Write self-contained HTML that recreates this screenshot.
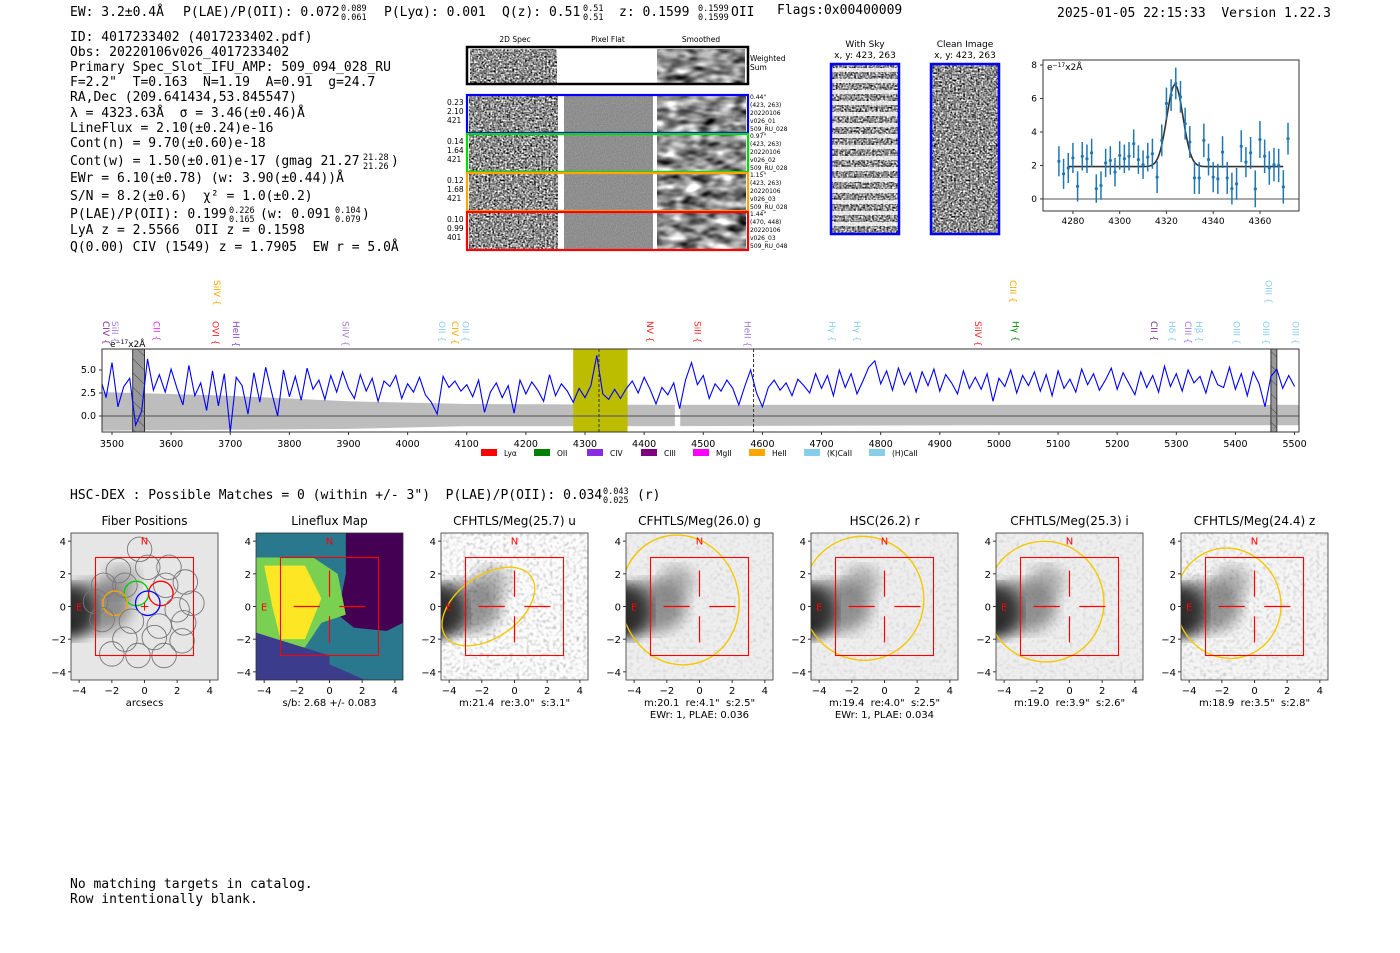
<!DOCTYPE html>
<html><head><meta charset="utf-8"><style>
html,body{margin:0;padding:0;background:#fff;}
svg{display:block;}
text{white-space:pre;}
.mono{font-family:"DejaVu Sans Mono","Liberation Mono",monospace;font-size:13px;fill:#000;}
.sm{font-size:8.5px;}
</style></head><body>
<svg id="fig" width="1400" height="953" viewBox="0 0 1400 953" xmlns="http://www.w3.org/2000/svg" xml:space="preserve">
<defs>
<filter id="nFine" x="0" y="0" width="1" height="1" color-interpolation-filters="sRGB">
<feTurbulence type="fractalNoise" baseFrequency="0.55" numOctaves="1" seed="3"/>
<feColorMatrix values="1.1 1.1 1.1 0 -1.1  1.1 1.1 1.1 0 -1.1  1.1 1.1 1.1 0 -1.1  0 0 0 0 1"/></filter>
<filter id="nSmooth" x="0" y="0" width="1" height="1" color-interpolation-filters="sRGB">
<feTurbulence type="fractalNoise" baseFrequency="0.06 0.12" numOctaves="2" seed="7"/>
<feColorMatrix values="0.9 0.9 0.9 0 -0.8  0.9 0.9 0.9 0 -0.8  0.9 0.9 0.9 0 -0.8  0 0 0 0 1"/></filter>
<filter id="nFlat" x="0" y="0" width="1" height="1" color-interpolation-filters="sRGB">
<feTurbulence type="fractalNoise" baseFrequency="0.9" numOctaves="1" seed="5"/>
<feColorMatrix values="0.12 0.12 0.12 0 0.38  0.12 0.12 0.12 0 0.38  0.12 0.12 0.12 0 0.38  0 0 0 0 1"/></filter>
<filter id="nCut" x="0" y="0" width="1" height="1" color-interpolation-filters="sRGB">
<feTurbulence type="fractalNoise" baseFrequency="0.3" numOctaves="1" seed="11"/>
<feColorMatrix values="0.35 0.35 0.35 0 0.45  0.35 0.35 0.35 0 0.45  0.35 0.35 0.35 0 0.45  0 0 0 0 1"/></filter>
<filter id="blur3"><feGaussianBlur stdDeviation="7"/></filter>
<pattern id="hatch" width="10" height="10" patternUnits="userSpaceOnUse" patternTransform="rotate(-45)"><rect width="10" height="10" fill="#999"/><line x1="0" y1="0" x2="0" y2="10" stroke="#444" stroke-width="1"/></pattern>
</defs>

<g>
<text class="mono" x="70" y="16">EW: 3.2±0.4Å</text>
<text class="mono" x="183" y="16">P(LAE)/P(OII): 0.072</text>
<text class="mono" x="341" y="11" style="font-size:8.5px">0.089</text><text class="mono" x="341" y="20" style="font-size:8.5px">0.061</text>
<text class="mono" x="384" y="16">P(Lyα): 0.001</text>
<text class="mono" x="502" y="16">Q(z): 0.51</text>
<text class="mono" x="583" y="11" style="font-size:8.5px">0.51</text><text class="mono" x="583" y="20" style="font-size:8.5px">0.51</text>
<text class="mono" x="619" y="16">z: 0.1599</text>
<text class="mono" x="698" y="11" style="font-size:8.5px">0.1599</text><text class="mono" x="698" y="20" style="font-size:8.5px">0.1599</text>
<text class="mono" x="731" y="16">OII</text>
<text class="mono" x="777" y="14">Flags:0x00400009</text>
<text class="mono" x="1057" y="17">2025-01-05 22:15:33  Version 1.22.3</text>
</g>
<g>
<text class="mono" x="70" y="41">ID: 4017233402 (4017233402.pdf)</text>
<text class="mono" x="70" y="56">Obs: 20220106v026_4017233402</text>
<text class="mono" x="70" y="71">Primary Spec_Slot_IFU_AMP: 509_094_028_RU</text>
<text class="mono" x="70" y="86">F=2.2"  T=0.163  N=1.19  A=0.91  g=24.7</text>
<text class="mono" x="70" y="101">RA,Dec (209.641434,53.845547)</text>
<text class="mono" x="70" y="117">λ = 4323.63Å  σ = 3.46(±0.46)Å</text>
<text class="mono" x="70" y="132">LineFlux = 2.10(±0.24)e-16</text>
<text class="mono" x="70" y="147">Cont(n) = 9.70(±0.60)e-18</text>
<text class="mono" x="70" y="165">Cont(w) = 1.50(±0.01)e-17 (gmag 21.27</text>
<text class="mono" x="363" y="160" style="font-size:8.5px">21.28</text><text class="mono" x="363" y="169" style="font-size:8.5px">21.26</text>
<text class="mono" x="391" y="165">)</text>
<text class="mono" x="70" y="182">EWr = 6.10(±0.78) (w: 3.90(±0.44))Å</text>
<text class="mono" x="70" y="200">S/N = 8.2(±0.6)  χ² = 1.0(±0.2)</text>
<text class="mono" x="70" y="218">P(LAE)/P(OII): 0.199</text>
<text class="mono" x="229" y="213" style="font-size:8.5px">0.226</text><text class="mono" x="229" y="222" style="font-size:8.5px">0.165</text>
<text class="mono" x="260" y="218">(w: 0.091</text>
<text class="mono" x="335" y="213" style="font-size:8.5px">0.104</text><text class="mono" x="335" y="222" style="font-size:8.5px">0.079</text>
<text class="mono" x="362" y="218">)</text>
<text class="mono" x="70" y="234">LyA z = 2.5566  OII z = 0.1598</text>
<text class="mono" x="70" y="251">Q(0.00) CIV (1549) z = 1.7905  EW r = 5.0Å</text>
</g>

<g id="spec2d"></g>
<g id="fitplot"></g>
<g id="fullspec"></g>

<g>
<text class="mono" x="70" y="499">HSC-DEX : Possible Matches = 0 (within +/- 3")  P(LAE)/P(OII): 0.034</text>
<text class="mono" x="603" y="494" style="font-size:8.5px">0.043</text><text class="mono" x="603" y="503" style="font-size:8.5px">0.025</text>
<text class="mono" x="637" y="499">(r)</text>
</g>
<g id="cutouts"></g>
<g>
<text class="mono" x="70" y="888">No matching targets in catalog.</text>
<text class="mono" x="70" y="903">Row intentionally blank.</text>
</g>
</svg>
<script>
// ===== data =====
const fitWave = [4274,4276,4278,4280,4282,4284,4286,4288,4290,4292,4294,4296,4298,4300,4302,4304,4306,4308,4310,4312,4314,4316,4318,4320,4322,4324,4326,4328,4330,4332,4334,4336,4338,4340,4342,4344,4346,4348,4350,4352,4354,4356,4358,4360,4362,4364,4366,4368,4370,4372];
const fitFlux = [2.25,1.5,1.85,2.45,0.75,2.55,2.4,2.75,0.62,0.8,2.15,2.3,1.6,2.6,2.4,2.55,3.3,2.35,2.05,2.5,2.7,1.3,3.5,5.7,6.2,6.9,6.1,4.5,3.4,1.25,1.25,3.5,2.35,1.3,1.2,2.8,1.25,0.62,0.9,3.15,2.2,2.75,0.6,3.55,2.55,1.85,2.05,2.0,0.72,3.6];
const fitErr = [0.9,0.9,0.9,0.9,0.9,0.85,0.85,0.85,0.85,0.85,0.85,0.85,0.85,0.85,0.85,0.85,0.85,0.85,0.85,0.85,0.9,0.95,0.95,0.95,0.95,0.95,0.95,0.95,0.95,0.95,0.95,1.0,0.95,0.9,0.9,0.95,0.95,0.95,0.95,0.95,0.9,0.95,1.1,1.1,1.0,1.0,1.0,1.0,1.0,0.95];
const fitParams = [4323.63, 3.46, 4.9, 1.93]; // center, sigma, amplitude, continuum
const fitXTicks = [4280,4300,4320,4340,4360];
const fitYTicks = [0,2,4,6,8];

const specStart = 3480, specStep = 10;
const specFlux = [3.5,2.0,5.8,1.0,3.2,4.1,-1.0,0.5,6.2,2.8,
4.5,2.6,5.1,3.0,1.2,5.5,2.2,3.6,0.6,4.9,
1.1,4.6,-1.8,4.2,3.3,0.2,4.7,1.5,5.3,2.6,
0.0,5.0,2.1,4.3,1.7,5.2,2.9,3.9,1.8,4.4,
2.6,4.8,3.0,1.9,4.5,2.7,4.1,1.6,3.8,3.2,
4.4,1.9,3.5,2.6,4.2,2.3,1.5,0.2,4.3,3.1,
3.8,2.7,3.4,2.1,3.9,0.4,2.6,3.6,2.0,3.3,
0.3,3.9,2.4,3.7,2.8,1.6,4.5,2.2,3.5,2.7,
1.5,3.0,2.0,3.3,6.6,2.4,1.8,2.9,1.9,3.0,
3.8,2.5,4.2,2.9,1.3,3.1,2.3,3.6,0.8,3.9,
5.8,3.4,4.4,1.9,3.5,2.7,3.9,3.0,1.2,3.2,
5.0,2.5,1.0,3.1,3.9,2.8,3.6,2.2,4.0,3.3,
2.5,4.6,3.0,4.4,2.2,5.0,3.1,4.6,2.4,3.8,
5.3,6.0,3.5,4.9,2.8,5.2,3.4,4.7,2.6,4.8,
3.3,5.1,2.7,4.5,3.6,2.4,4.9,3.0,4.2,2.9,
4.6,1.6,4.1,3.2,5.0,2.5,4.4,3.3,4.8,2.7,
4.5,2.2,4.9,3.0,4.0,2.6,5.1,3.4,4.6,2.8,
3.9,5.2,2.9,4.7,3.5,2.3,4.8,3.1,4.4,2.6,
5.4,3.2,4.6,2.7,5.0,3.6,4.3,2.5,4.9,3.4,
3.1,5.3,2.9,4.6,2.2,4.8,3.5,1.0,4.3,5.1,
3.0,4.4,3.2];
const errKnotWave = [3483,3700,3900,4100,4450,5000,5507];
const errKnotHi = [2.6,2.2,1.6,1.3,1.2,1.2,1.2];
const errKnotLo = [-1.6,-1.5,-1.4,-1.1,-1.1,-1.0,-1.0];
const specXTicks = [3500,3600,3700,3800,3900,4000,4100,4200,4300,4400,4500,4600,4700,4800,4900,5000,5100,5200,5300,5400,5500];
const specYTicks = [0,2.5,5.0];
const lineNames = ["CIV","SiII","CII","OVI","SiIV","HeII","SiIV","OII","CIV","OII","NV","SiII","HeII","Hγ","Hγ","SiIV","CIII","Hγ","CII","Hδ","CIII","Hβ","OIII","OIII","OIII","OIII"];
const lineWaves = [3490,3505,3575,3675,3678,3710,3895,4058,4080,4098,4410,4490,4575,4718,4760,4965,5024,5028,5262,5293,5320,5338,5402,5452,5456,5502];
const lineColors = ["#7b2d8e","#a57be0","#ee33ee","#ff2222","#ffa500","#8844cc","#a57be0","#87ceeb","#ffa500","#87ceeb","#ff2222","#ff2222","#a57be0","#87ceeb","#87ceeb","#ff2222","#ffa500","#008800","#7b2d8e","#87ceeb","#a57be0","#87ceeb","#87ceeb","#87ceeb","#87ceeb","#87ceeb"];
const lineTier = [0,0,0,0,1,0,0,0,0,0,0,0,0,0,0,0,1,0,0,0,0,0,0,0,1,0];
const legendNames = ["Lyα","OII","CIV","CIII","MgII","HeII","(K)CaII","(H)CaII"];
const legendColors = ["#ff0000","#008000","#8a2be2","#800080","#ff00ff","#ffa500","#87ceeb","#87ceeb"];

const panelTitles = ["Fiber Positions","Lineflux Map","CFHTLS/Meg(25.7) u","CFHTLS/Meg(26.0) g","HSC(26.2) r","CFHTLS/Meg(25.3) i","CFHTLS/Meg(24.4) z"];
const panelLabel1 = ["arcsecs","s/b: 2.68 +/- 0.083","m:21.4  re:3.0\"  s:3.1\"","m:20.1  re:4.1\"  s:2.5\"","m:19.4  re:4.0\"  s:2.5\"","m:19.0  re:3.9\"  s:2.6\"","m:18.9  re:3.5\"  s:2.8\""];
const panelLabel2 = ["","","","EWr: 1, PLAE: 0.036","EWr: 1, PLAE: 0.034","",""];
const ellCx = [0,0,-1.6,-1.2,-1.3,-1.5,-1.6];
const ellCy = [0,0,0.0,0.4,0.5,0.3,0.2];
const ellRx = [0,0,3.2,3.6,3.7,3.6,3.2];
const ellRy = [0,0,1.9,4.0,3.8,3.7,3.4];
const ellRot = [0,0,-35,-15,-15,-15,-20];
const cutTicks = [-4,-2,0,2,4];
const fiberX = [-0.3,-1.6,1.5,0.2,-1.2,1.3,2.5,-2.5,-0.5,1.0,2.9,-3.0,-1.8,0.2,2.0,-2.6,-0.8,0.9,2.4,-1.2,0.6,2.3,-0.4,1.2,-2.0];
const fiberY = [3.5,2.2,2.4,2.4,1.3,1.3,1.5,1.3,0.8,0.8,0.2,0.3,0.2,0.2,-0.2,-0.8,-0.9,-1.2,-1.0,-2.0,-1.9,-2.1,-3.0,-3.0,-2.9];
const fiberHighlight = ["","","","","","","","","#00cc00","red","","","orange","blue","","","","","","","","","","",""];

// ===== helpers =====
const NS="http://www.w3.org/2000/svg";
function mk(tag, attrs, parent){const e=document.createElementNS(NS,tag);for(const k in attrs)e.setAttribute(k,attrs[k]);parent.appendChild(e);return e;}
function txt(parent,x,y,s,size,anchor,fill){const t=mk('text',{x:x,y:y,'font-size':size,'text-anchor':anchor||'start',fill:fill||'#000','font-family':'DejaVu Sans, Liberation Sans, sans-serif'},parent);t.textContent=s;return t;}

// ===== 2D spectra =====
(function(){
const g=document.getElementById('spec2d');
txt(g,515,42,"2D Spec",7.5,'middle');txt(g,608,42,"Pixel Flat",7.5,'middle');txt(g,701,42,"Smoothed",7.5,'middle');
const ws=mk('rect',{x:470,y:49,width:87,height:34,filter:'url(#nFine)'},g);


const wsm=mk('rect',{x:657,y:49,width:88,height:34,filter:'url(#nSmooth)'},g);


mk('rect',{x:467,y:47,width:281,height:37,fill:'none',stroke:'#000','stroke-width':2.5},g);
txt(g,750,61,"Weighted",7.5);txt(g,750,70,"Sum",7.5);
const rows=[{c:'#0000ff',y:95,n:["0.23","2.10","421"],r:["0.44\"","(423, 263)","20220106","v026_01","509_RU_028"]},
{c:'#00dd00',y:134,n:["0.14","1.64","421"],r:["0.97\"","(423, 263)","20220106","v026_02","509_RU_028"]},
{c:'#ffa500',y:173,n:["0.12","1.68","421"],r:["1.15\"","(423, 263)","20220106","v026_03","509_RU_028"]},
{c:'#ff0000',y:212,n:["0.10","0.99","401"],r:["1.44\"","(470, 448)","20220106","v026_03","509_RU_048"]}];
rows.forEach((rw,i)=>{
 const a=mk('rect',{x:469,y:rw.y+1,width:89,height:36,filter:'url(#nFine)'},g);
 
 
 const b=mk('rect',{x:564,y:rw.y+1,width:89,height:36,filter:'url(#nFlat)'},g);
 
 
 const c=mk('rect',{x:657,y:rw.y+1,width:89,height:36,filter:'url(#nSmooth)'},g);
 
 
 const f=mk('rect',{x:467,y:rw.y,width:281,height:38,fill:'none',stroke:rw.c,'stroke-width':2.2},g);
 
 
 rw.n.forEach((s,k)=>txt(g,447,rw.y+10+k*9,s,7.5));
 rw.r.forEach((s,k)=>txt(g,750,rw.y+4+k*8,s,6));
});
txt(g,865,47,"With Sky",9,'middle');txt(g,865,58,"x, y: 423, 263",9,'middle');
txt(g,965,47,"Clean Image",9,'middle');txt(g,965,58,"x, y: 423, 263",9,'middle');
const sky=mk('rect',{x:832,y:65,width:66,height:168,fill:'#999',filter:'url(#nFine)'},g);


for(let k=0;k<15;k++){mk('rect',{x:832,y:68+k*11,width:66,height:4,fill:'#fff',opacity:0.8},g);}
mk('rect',{x:831,y:64,width:68,height:170,fill:'none',stroke:'#0000ff','stroke-width':2.5},g);
const cl=mk('rect',{x:932,y:65,width:66,height:168,filter:'url(#nFine)'},g);


mk('rect',{x:931,y:64,width:68,height:170,fill:'none',stroke:'#0000ff','stroke-width':2.5},g);
})();

// ===== fit plot =====
(function(){
const g=document.getElementById('fitplot');
const L=1043,R=1299,T=60,B=211,x0=4267.2,x1=4376.7,y0=-0.72,y1=8.3;
const X=v=>L+(v-x0)/(x1-x0)*(R-L), Y=v=>B-(v-y0)/(y1-y0)*(B-T);
mk('line',{x1:L,x2:R,y1:Y(0),y2:Y(0),stroke:'#555','stroke-width':1},g);
let d='';
for(let w=4278;w<=4370;w+=0.5){const f=fitParams[3]+fitParams[2]*Math.exp(-0.5*Math.pow((w-fitParams[0])/fitParams[1],2));d+=(d?'L':'M')+X(w).toFixed(1)+','+Y(f).toFixed(1);}
const fl=mk('path',{d:d,fill:'none',stroke:'#333','stroke-width':1.6},g);


fitWave.forEach((w,i)=>{
 const e=mk('line',{x1:X(w),x2:X(w),y1:Y(fitFlux[i]-fitErr[i]),y2:Y(fitFlux[i]+fitErr[i]),stroke:'#1f77b4','stroke-width':1.5},g);
 
 
 const p=mk('circle',{cx:X(w),cy:Y(fitFlux[i]),r:1.6,fill:'#1f77b4'},g);
 
 
});
mk('rect',{x:L,y:T,width:R-L,height:B-T,fill:'none',stroke:'#333','stroke-width':1},g);
fitXTicks.forEach(t=>{mk('line',{x1:X(t),x2:X(t),y1:B,y2:B+3,stroke:'#333'},g);txt(g,X(t),B+13,String(t),9,'middle');});
fitYTicks.forEach(t=>{mk('line',{x1:L,x2:L-3,y1:Y(t),y2:Y(t),stroke:'#333'},g);txt(g,L-6,Y(t)+3,String(t),9,'end');});
const u=txt(g,L+4,T+10,"e",9);const s=mk('tspan',{dy:-3,'font-size':6},u);s.textContent="−17";const s2=mk('tspan',{dy:3},u);s2.textContent="x2Å";
})();

// ===== full spectrum =====
(function(){
const g=document.getElementById('fullspec');
const L=102,R=1299,T=349,B=432,x0=3483.1,x1=5507.5,y0=-1.74,y1=7.28;
const X=v=>L+(v-x0)/(x1-x0)*(R-L), Y=v=>B-(v-y0)/(y1-y0)*(B-T);
let up='',lo='';
errKnotWave.forEach((w,i)=>{up+=(i?'L':'M')+X(w).toFixed(1)+','+Y(errKnotHi[i]).toFixed(1);});
for(let i=errKnotWave.length-1;i>=0;i--){lo+='L'+X(errKnotWave[i]).toFixed(1)+','+Y(errKnotLo[i]).toFixed(1);}
const band=mk('path',{d:up+lo+'Z',fill:'#bdbdbd'},g);


mk('rect',{x:X(4452),y:T,width:X(4461)-X(4452),height:B-T,fill:'#fff'},g);
const hl=mk('rect',{x:X(4280),y:T,width:X(4372)-X(4280),height:B-T,fill:'#bcbc00'},g);


[[3535,3555],[5460,5470]].forEach(r=>{const h=mk('rect',{x:X(r[0]),y:T,width:X(r[1])-X(r[0]),height:B-T,fill:'url(#hatch)',stroke:'#333'},g);
 
 });
mk('line',{x1:L,x2:R,y1:Y(0),y2:Y(0),stroke:'#666','stroke-width':1.2},g);
[4323.6,4585].forEach(w=>mk('line',{x1:X(w),x2:X(w),y1:T,y2:B,stroke:'#333','stroke-dasharray':'3,2','stroke-width':1},g));
let d='';
specFlux.forEach((f,i)=>{const w=specStart+i*specStep;const xx=Math.max(L,Math.min(X(w),R));d+=(i?'L':'M')+xx.toFixed(1)+','+Y(Math.max(f,y0)).toFixed(1);});
const sp=mk('path',{d:d,fill:'none',stroke:'#0000ff','stroke-width':1.1},g);


mk('rect',{x:L,y:T,width:R-L,height:B-T,fill:'none',stroke:'#333','stroke-width':1},g);
specXTicks.forEach(t=>{mk('line',{x1:X(t),x2:X(t),y1:B,y2:B+3,stroke:'#333'},g);txt(g,X(t),B+15,String(t),9.5,'middle');});
specYTicks.forEach(t=>{mk('line',{x1:L,x2:L-3,y1:Y(t),y2:Y(t),stroke:'#333'},g);txt(g,L-6,Y(t)+3,t.toFixed(1),9.5,'end');});
const u=txt(g,110,347,"e",9);const s=mk('tspan',{dy:-3,'font-size':6},u);s.textContent="−17";const s2=mk('tspan',{dy:3},u);s2.textContent="x2Å";
lineNames.forEach((n,i)=>{
 const x=X(lineWaves[i]);const y=lineTier[i]?280:321;
 const t=mk('text',{x:0,y:0,'font-size':9,fill:lineColors[i],'font-family':'DejaVu Sans, sans-serif',transform:'translate('+(x-3)+','+y+') rotate(90)'},g);
 t.textContent=n+" {";
 
 
});
const lx=[481,534,587,641,693,749,804,869];
legendNames.forEach((n,i)=>{
 const r=mk('rect',{x:lx[i],y:449,width:16,height:7,fill:legendColors[i]},g);
 
 
 txt(g,lx[i]+23,456,n,7.5);
});
})();

// ===== cutouts =====
(function(){
const G=document.getElementById('cutouts');
panelTitles.forEach((title,i)=>{
 const L=71+185*i,T=533,S=147,sc=S/9,cx=L+S/2,cy=T+S/2;
 const X=v=>cx+v*sc, Y=v=>cy-v*sc;
 const g=mk('g',{},G);
 
 
 const cid='clip'+i;const cp=mk('clipPath',{id:cid},g);mk('rect',{x:L,y:T,width:S,height:S},cp);
 const im=mk('g',{'clip-path':'url(#'+cid+')'},g);
 if(i===1){
  mk('rect',{x:L,y:T,width:S,height:S,fill:'#2a788e'},im);
  mk('polygon',{points:[X(1),T,X(4.5),T,X(4.5),Y(-1),X(3.5),Y(-1.5),X(1.5),Y(-1.3),X(0.5),Y(-0.5),X(1),Y(2)].join(' '),fill:'#440154'},im);
  mk('polygon',{points:[L,Y(3),X(-1),Y(3),X(0.5),Y(2),X(1),Y(-0.5),X(-0.5),Y(-1),X(-1.5),Y(-2.5),L,Y(-2.5)].join(' '),fill:'#7ad151'},im);
  mk('polygon',{points:[X(-4),Y(2.5),X(-1.5),Y(2.5),X(-0.5),Y(0.5),X(-1.5),Y(-2),X(-3),Y(-2),X(-3.5),Y(0)].join(' '),fill:'#fde725'},im);
  mk('polygon',{points:[L,Y(-1.6),X(2.2),Y(-4.5),L,T+S].join(' '),fill:'#3b3c8b'},im);
  mk('polygon',{points:[L,Y(-1.6),X(0),Y(-3),X(0),T+S,L,T+S].join(' '),fill:'#3b3c8b'},im);
 } else {
  mk('rect',{x:L,y:T,width:S,height:S,fill:'#e6e6e6'},im);
  if(i>=2){mk('rect',{x:L,y:T,width:S,height:S,filter:'url(#nCut)',opacity:i===2?0.9:(i===6?0.6:0.35)},im);}
  mk('ellipse',{cx:X(-4.6),cy:Y(-0.3),rx:sc*1.6,ry:sc*1.6,fill:'#000',opacity:0.9,filter:'url(#blur3)'},im);
  mk('ellipse',{cx:X(-3.0),cy:Y(0.0),rx:sc*2.2,ry:sc*1.6,fill:'#444',opacity:0.55,filter:'url(#blur3)'},im);
  mk('ellipse',{cx:X(-1.4),cy:Y(1.5),rx:sc*1.1,ry:sc*1.0,fill:'#555',opacity:0.4,filter:'url(#blur3)'},im);
 }
 if(i===0){
  fiberX.forEach((fx,k)=>{const h=fiberHighlight[k];
   const c=mk('circle',{cx:X(fx),cy:Y(fiberY[k]),r:sc*0.75,fill:'none',stroke:h||'#777','stroke-width':h?1.3:0.9},im);
   
   });
  txt(im,X(0),Y(0)+4,"+",12,'middle','#f00');
 }
 if(ellRx[i]>0){
  const e=mk('ellipse',{cx:X(ellCx[i]),cy:Y(ellCy[i]),rx:ellRx[i]*sc,ry:ellRy[i]*sc,fill:'none',stroke:'#f5c800','stroke-width':1.4,transform:'rotate('+ellRot[i]+' '+X(ellCx[i])+' '+Y(ellCy[i])+')'},im);
  
  
 }
 mk('rect',{x:X(-3),y:Y(3),width:6*sc,height:6*sc,fill:'none',stroke:'#f00','stroke-width':1.1},g);
 if(i>0){
  [[X(-2.2),Y(0),X(-0.6),Y(0)],[X(0.6),Y(0),X(2.2),Y(0)],[X(0),Y(2.2),X(0),Y(0.6)],[X(0),Y(-0.6),X(0),Y(-2.2)]].forEach(l=>mk('line',{x1:l[0],y1:l[1],x2:l[2],y2:l[3],stroke:'#f00','stroke-width':1.2},g));
 }
 txt(g,X(0),Y(3.8),"N",10,'middle','#f00');
 txt(g,X(-4),Y(0)+4,"E",10,'middle','#f00');
 mk('rect',{x:L,y:T,width:S,height:S,fill:'none',stroke:'#333','stroke-width':0.8},g);
 cutTicks.forEach(t=>{
  mk('line',{x1:X(t),x2:X(t),y1:T+S,y2:T+S+3,stroke:'#333'},g);
  txt(g,X(t),T+S+14,t<0?'−'+(-t):String(t),10,'middle');
  mk('line',{x1:L,x2:L-3,y1:Y(t),y2:Y(t),stroke:'#333'},g);
  txt(g,L-5,Y(t)+4,t<0?'−'+(-t):String(t),10,'end');
 });
 const tt=txt(g,cx,T-8,title,12,'middle');
 
 
 txt(g,cx,T+S+26,panelLabel1[i],10,'middle');
 if(panelLabel2[i])txt(g,cx,T+S+38,panelLabel2[i],10,'middle');
});
})();
</script>
</body></html>
